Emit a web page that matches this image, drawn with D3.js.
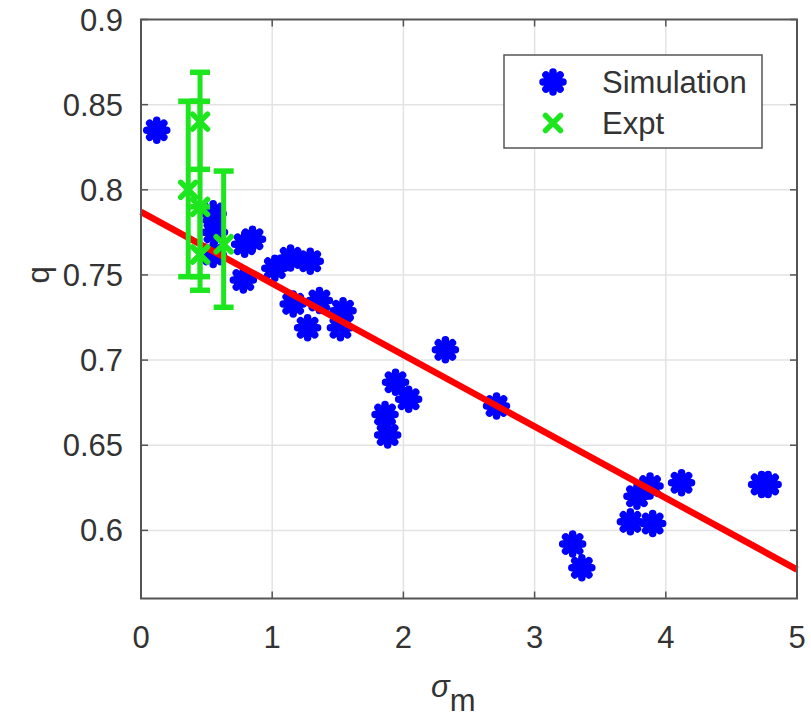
<!DOCTYPE html>
<html>
<head>
<meta charset="utf-8">
<script src="https://cdn.jsdelivr.net/npm/d3@7"></script>
<style>
  html, body { margin: 0; padding: 0; background: #fff; }
  svg { display: block; font-family: "Liberation Sans", Arial, Helvetica, sans-serif; }
</style>
</head>
<body>
<svg id="chart" width="811" height="724"></svg>
<script>
// Simulation results: sigma_m vs q
const simSigma = [0.12, 0.55, 0.56, 0.55, 0.79, 0.85, 0.78, 1.02, 1.14, 1.29,
                  1.16, 1.27, 1.36, 1.54, 1.52, 2.32, 1.94, 2.04, 1.86, 1.88,
                  2.71, 3.29, 3.36, 3.78, 3.88, 3.73, 3.90, 4.12, 4.73, 4.78];
const simQ     = [0.835, 0.786, 0.775, 0.762, 0.768, 0.771, 0.747, 0.754, 0.760, 0.758,
                  0.733, 0.719, 0.735, 0.729, 0.719, 0.706, 0.687, 0.677, 0.668, 0.656,
                  0.673, 0.592, 0.578, 0.620, 0.626, 0.605, 0.604, 0.628, 0.627, 0.627];

// Experimental points with lower / upper error limits
const exptSigma = [0.36, 0.45, 0.45, 0.45, 0.63];
const exptQ     = [0.800, 0.840, 0.790, 0.762, 0.768];
const exptLo    = [0.749, 0.812, 0.749, 0.741, 0.731];
const exptHi    = [0.852, 0.869, 0.852, 0.790, 0.811];

// Linear fit end points
const fitSigma = [0, 5];
const fitQ     = [0.787, 0.577];

const xTicks = [0, 1, 2, 3, 4, 5];
const yTicks = [0.6, 0.65, 0.7, 0.75, 0.8, 0.85, 0.9];
const legendLabels = ["Simulation", "Expt"];

const margin = { left: 141, right: 14, top: 19.5, bottom: 125.5 };
const W = 811, H = 724;
const svg = d3.select("#chart");

const x = d3.scaleLinear().domain([0, 5]).range([margin.left, W - margin.right]);
const y = d3.scaleLinear().domain([0.56, 0.9]).range([H - margin.bottom, margin.top]);

const axisColor = "#555";
const textColor = "#333";
const blue = "#0000ff", green = "#1ee61e", red = "#ff0000";

// grid
const grid = svg.append("g");
grid.selectAll("line.gx").data(xTicks.slice(1, -1)).join("line")
  .attr("x1", d => x(d)).attr("x2", d => x(d))
  .attr("y1", y(0.56)).attr("y2", y(0.9))
  .attr("stroke", "#e3e3e3").attr("stroke-width", 1.5);
grid.selectAll("line.gy").data(yTicks.slice(0, -1)).join("line")
  .attr("x1", x(0)).attr("x2", x(5))
  .attr("y1", d => y(d)).attr("y2", d => y(d))
  .attr("stroke", "#e3e3e3").attr("stroke-width", 1.5);

// asterisk marker
function asterisk(r) {
  const a = r * Math.SQRT1_2;
  return `M0,${-r}L0,${r}M${-r},0L${r},0M${-a},${-a}L${a},${a}M${-a},${a}L${a},${-a}`;
}
function cross(r) {
  return `M${-r},${-r}L${r},${r}M${-r},${r}L${r},${-r}`;
}
const starR = 10, starW = 7.5;

// simulation markers
const sim = simSigma.map((s, i) => ({ s, q: simQ[i] }));
svg.append("g").selectAll("path").data(sim).join("path")
  .attr("transform", d => `translate(${x(d.s)},${y(d.q)})`)
  .attr("d", asterisk(starR))
  .attr("fill", "none").attr("stroke", blue)
  .attr("stroke-width", starW).attr("stroke-linecap", "round");

// fit line
svg.append("path")
  .datum(fitSigma.map((s, i) => [s, fitQ[i]]))
  .attr("d", d3.line().x(d => x(d[0])).y(d => y(d[1])))
  .attr("stroke", red).attr("stroke-width", 6.5).attr("fill", "none");

// experimental points with error bars
const expt = exptSigma.map((s, i) => ({ s, q: exptQ[i], lo: exptLo[i], hi: exptHi[i] }));
const eg = svg.append("g").attr("stroke", green).attr("fill", "none");
const capW = 10;
expt.forEach(d => {
  const cx = x(d.s);
  eg.append("line").attr("x1", cx).attr("x2", cx).attr("y1", y(d.lo)).attr("y2", y(d.hi)).attr("stroke-width", 5);
  eg.append("line").attr("x1", cx - capW).attr("x2", cx + capW).attr("y1", y(d.lo)).attr("y2", y(d.lo)).attr("stroke-width", 5.5);
  eg.append("line").attr("x1", cx - capW).attr("x2", cx + capW).attr("y1", y(d.hi)).attr("y2", y(d.hi)).attr("stroke-width", 5.5);
  eg.append("path").attr("transform", `translate(${cx},${y(d.q)})`).attr("d", cross(7.5))
    .attr("stroke-width", 5.5).attr("stroke-linecap", "round");
});

// axes box
const x0 = x(0), x1 = x(5), y0 = y(0.56), y1 = y(0.9);
svg.append("rect").attr("x", x0).attr("y", y1).attr("width", x1 - x0).attr("height", y0 - y1)
  .attr("fill", "none").attr("stroke", axisColor).attr("stroke-width", 2);

const tickLen = 7;
const ax = svg.append("g").attr("stroke", axisColor).attr("stroke-width", 1.5);
xTicks.forEach(t => {
  ax.append("line").attr("x1", x(t)).attr("x2", x(t)).attr("y1", y0).attr("y2", y0 - tickLen);
  ax.append("line").attr("x1", x(t)).attr("x2", x(t)).attr("y1", y1).attr("y2", y1 + tickLen);
});
yTicks.forEach(t => {
  ax.append("line").attr("x1", x0).attr("x2", x0 + tickLen).attr("y1", y(t)).attr("y2", y(t));
  ax.append("line").attr("x1", x1).attr("x2", x1 - tickLen).attr("y1", y(t)).attr("y2", y(t));
});

// tick labels
const fs = 31;
svg.append("g").selectAll("text").data(xTicks).join("text")
  .attr("x", d => x(d)).attr("y", y0 + 49)
  .attr("text-anchor", "middle").attr("font-size", fs).attr("fill", textColor)
  .text(d => d3.format("d")(d));
svg.append("g").selectAll("text").data(yTicks).join("text")
  .attr("x", x0 - 18).attr("y", d => y(d) + 11)
  .attr("text-anchor", "end").attr("font-size", fs).attr("fill", textColor)
  .text(d => String(d));

// axis titles
svg.append("text").attr("transform", `translate(49,${y(0.75)}) rotate(-90)`)
  .attr("text-anchor", "middle").attr("font-size", fs).attr("fill", textColor).text("q");
const xt = svg.append("text").attr("x", x(2.38)).attr("y", 697)
  .attr("text-anchor", "middle").attr("font-size", fs).attr("fill", textColor);
xt.append("tspan").attr("font-style", "italic").text("σ");
xt.append("tspan").attr("dy", 14).attr("font-size", fs).text("m");

// legend
const lg = svg.append("g");
lg.append("rect").attr("x", 504).attr("y", 55).attr("width", 258).attr("height", 93)
  .attr("fill", "#fff").attr("stroke", axisColor).attr("stroke-width", 1.5);
lg.append("path").attr("transform", "translate(553,82)").attr("d", asterisk(starR))
  .attr("fill", "none").attr("stroke", blue).attr("stroke-width", starW).attr("stroke-linecap", "round");
lg.append("path").attr("transform", "translate(553,123)").attr("d", cross(7.5))
  .attr("fill", "none").attr("stroke", green).attr("stroke-width", 5.5).attr("stroke-linecap", "round");
lg.selectAll("text").data(legendLabels).join("text")
  .attr("x", 602).attr("y", (d, i) => 93 + i * 41)
  .attr("font-size", fs).attr("fill", textColor).text(d => d);
</script>
</body>
</html>
